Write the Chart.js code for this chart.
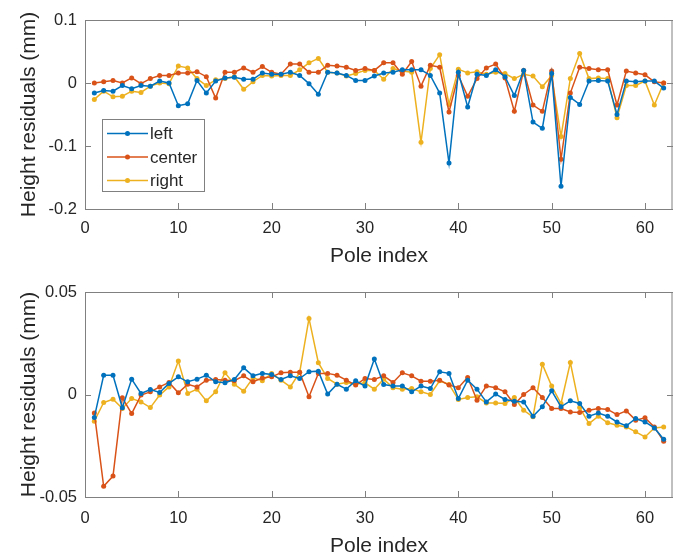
<!DOCTYPE html>
<html>
<head>
<meta charset="utf-8">
<script src="https://cdn.jsdelivr.net/npm/chart.js@4"></script>
<style>
  html, body { margin: 0; padding: 0; background: #fff; overflow: hidden; }
  #wrap { position: relative; width: 673px; height: 554px; }
  #topBox { position: absolute; left: 0; top: 0; }
  #botBox { position: absolute; left: 0; top: 277px; }
</style>
</head>
<body>
<div id="wrap">
  <div id="topBox"><canvas id="topChart" width="673" height="277"></canvas></div>
  <div id="botBox"><canvas id="botChart" width="673" height="290"></canvas></div>
</div>
<script>
// pole index 1..62
const poles = [1,2,3,4,5,6,7,8,9,10,11,12,13,14,15,16,17,18,19,20,21,22,23,24,25,26,27,28,29,30,
  31,32,33,34,35,36,37,38,39,40,41,42,43,44,45,46,47,48,49,50,51,52,53,54,55,56,57,58,59,60,61,62];

const seriesNames = ['left', 'center', 'right'];

// upper plot (mm)
const topLeft = [-0.016,-0.012,-0.013,-0.004,-0.009,-0.004,-0.005,0.003,0.000,-0.036,
  -0.033,0.004,-0.016,0.003,0.008,0.009,0.006,0.006,0.016,0.014,
  0.014,0.017,0.012,-0.001,-0.018,0.017,0.016,0.012,0.004,0.004,
  0.011,0.016,0.017,0.021,0.021,0.021,0.012,-0.016,-0.127,0.017,
  -0.038,0.014,0.012,0.021,0.010,-0.020,0.020,-0.062,-0.072,0.015,
  -0.164,-0.023,-0.034,0.003,0.004,0.003,-0.050,0.003,0.002,0.003,
  0.003,-0.008];
const topCenter = [0.000,0.002,0.004,0.000,0.008,-0.001,0.007,0.012,0.012,0.016,
  0.016,0.018,0.010,-0.024,0.017,0.017,0.024,0.017,0.026,0.017,
  0.014,0.030,0.030,0.017,0.017,0.028,0.027,0.025,0.020,0.023,
  0.020,0.032,0.032,0.014,0.034,-0.005,0.028,0.025,-0.046,0.012,
  -0.021,0.007,0.024,0.030,0.008,-0.045,0.020,-0.035,-0.045,0.019,
  -0.121,-0.016,0.025,0.023,0.021,0.021,-0.035,0.019,0.016,0.013,
  0.002,0.000];
const topRight = [-0.026,-0.013,-0.022,-0.021,-0.013,-0.015,-0.005,0.000,-0.001,0.027,
  0.024,0.007,-0.004,0.005,0.007,0.010,-0.010,0.002,0.012,0.011,
  0.012,0.012,0.021,0.032,0.039,0.017,0.016,0.011,0.015,0.020,
  0.020,0.006,0.023,0.019,0.017,-0.094,0.023,0.045,-0.034,0.022,
  0.016,0.018,0.014,0.017,0.015,0.007,0.014,0.011,-0.006,0.012,
  -0.085,0.007,0.047,0.007,0.008,0.007,-0.055,-0.004,-0.004,0.003,
  -0.035,0.000];

// lower plot (mm)
const botLeft = [-0.0112,0.0094,0.0094,-0.0065,0.0075,0.0005,0.0024,0.0010,0.0054,0.0086,
  0.0062,0.0075,0.0094,0.0062,0.0057,0.0073,0.0130,0.0091,0.0103,0.0098,
  0.0073,0.0091,0.0078,0.0111,0.0114,0.0002,0.0050,0.0026,0.0067,0.0041,
  0.0173,0.0049,0.0042,0.0041,0.0013,0.0041,0.0029,0.0111,0.0103,-0.0020,
  0.0070,0.0026,-0.0036,0.0002,-0.0024,-0.0033,-0.0036,-0.0106,-0.0060,0.0018,
  -0.0060,-0.0031,-0.0044,-0.0106,-0.0090,-0.0106,-0.0134,-0.0153,-0.0117,-0.0134,
  -0.0163,-0.0218];
const botCenter = [-0.0090,-0.0448,-0.0398,-0.0016,-0.0093,-0.0003,0.0013,0.0037,0.0059,0.0008,
  0.0050,0.0037,0.0070,0.0073,0.0070,0.0067,0.0091,0.0062,0.0081,0.0086,
  0.0106,0.0108,0.0108,-0.0011,0.0103,0.0103,0.0094,0.0070,0.0046,0.0078,
  0.0073,0.0091,0.0059,0.0106,0.0091,0.0065,0.0065,0.0070,0.0046,0.0033,
  0.0083,-0.0028,0.0041,0.0033,0.0013,-0.0049,0.0000,0.0033,-0.0015,-0.0068,
  -0.0068,-0.0085,-0.0088,-0.0077,-0.0068,-0.0073,-0.0098,-0.0080,-0.0125,-0.0114,
  -0.0158,-0.0228];
const botRight = [-0.0130,-0.0039,-0.0023,-0.0068,-0.0020,-0.0036,-0.0064,-0.0003,0.0037,0.0163,
  0.0005,0.0026,-0.0031,0.0013,0.0106,0.0050,0.0016,0.0081,0.0067,0.0103,
  0.0070,0.0037,0.0108,0.0371,0.0155,0.0078,0.0050,0.0059,0.0050,0.0057,
  0.0026,0.0075,0.0033,0.0026,0.0029,0.0013,0.0000,0.0067,0.0049,-0.0024,
  -0.0015,-0.0011,-0.0041,-0.0041,-0.0044,-0.0015,-0.0077,-0.0109,0.0148,0.0041,
  -0.0044,0.0156,-0.0064,-0.0142,-0.0106,-0.0138,-0.0150,-0.0158,-0.0182,-0.0207,
  -0.0163,-0.0158];

const xTicks = [0, 10, 20, 30, 40, 50, 60];
const yTicksTop = [-0.2, -0.1, 0, 0.1];
const yTicksBot = [-0.05, 0, 0.05];

const COLORS = ['#0072BD', '#D95319', '#EDB120'];
const AXIS_COLOR = '#808080';
const TEXT_COLOR = '#262626';
const FONT = '"Liberation Sans", Arial, Helvetica, sans-serif';
const TICK_LEN = 6;

// box round the axes + inward ticks, like matlab
const framePlugin = {
    id: 'frame',
    afterDraw(chart) {
        const { ctx, chartArea: a, scales } = chart;
        ctx.save();
        ctx.strokeStyle = AXIS_COLOR;
        ctx.lineWidth = 1;
        ctx.strokeRect(a.left + 0.5, a.top + 0.5, a.right - a.left - 1.5, a.bottom - a.top);
        ctx.beginPath();
        scales.x.ticks.forEach(t => {
            const px = Math.round(scales.x.getPixelForValue(t.value)) + 0.5;
            ctx.moveTo(px, a.bottom); ctx.lineTo(px, a.bottom - TICK_LEN);
            ctx.moveTo(px, a.top); ctx.lineTo(px, a.top + TICK_LEN);
        });
        scales.y.ticks.forEach(t => {
            const py = Math.round(scales.y.getPixelForValue(t.value)) + 0.5;
            ctx.moveTo(a.left, py); ctx.lineTo(a.left + TICK_LEN, py);
            ctx.moveTo(a.right, py); ctx.lineTo(a.right - TICK_LEN, py);
        });
        ctx.stroke();
        ctx.restore();
    }
};

// legend box inside the upper axes
const legendPlugin = {
    id: 'boxLegend',
    afterDraw(chart) {
        const ctx = chart.ctx;
        const bx = 102.5, by = 119.5, bw = 102, bh = 72;
        ctx.save();
        ctx.fillStyle = '#fff';
        ctx.fillRect(bx, by, bw, bh);
        ctx.strokeStyle = AXIS_COLOR;
        ctx.lineWidth = 1;
        ctx.strokeRect(bx, by, bw, bh);
        ctx.font = '17px ' + FONT;
        ctx.textBaseline = 'middle';
        chart.data.datasets.forEach((ds, i) => {
            const y = 133.5 + i * 23.5;
            ctx.strokeStyle = ds.borderColor;
            ctx.lineWidth = 1.5;
            ctx.beginPath();
            ctx.moveTo(107, y); ctx.lineTo(148, y);
            ctx.stroke();
            ctx.fillStyle = ds.borderColor;
            ctx.beginPath();
            ctx.arc(127.5, y, 2.5, 0, Math.PI * 2);
            ctx.fill();
            ctx.fillStyle = TEXT_COLOR;
            ctx.fillText(ds.label, 150, y + 1);
        });
        ctx.restore();
    }
};

function makeDatasets(series) {
    return series.map((vals, i) => ({
        label: seriesNames[i],
        data: poles.map((p, k) => ({ x: p, y: vals[k] })),
        borderColor: COLORS[i],
        backgroundColor: COLORS[i],
        borderWidth: 1.5,
        pointRadius: 2.5,
        pointBorderWidth: 0,
        pointBackgroundColor: COLORS[i],
        tension: 0,
        fill: false
    }));
}

function makeChart(id, series, yMin, yMax, yTicks, cfg) {
    const ctx = document.getElementById(id).getContext('2d');
    return new Chart(ctx, {
        type: 'line',
        data: { datasets: makeDatasets(series) },
        options: {
            responsive: false,
            animation: false,
            events: [],
            layout: {
                autoPadding: false,
                padding: { top: cfg.top, left: 0, right: 0, bottom: 0 }
            },
            scales: {
                x: {
                    type: 'linear',
                    min: 0,
                    max: 63,
                    afterBuildTicks: (s) => { s.ticks = xTicks.map(v => ({ value: v })); },
                    afterFit: (s) => {
                        s.height = cfg.xHeight;
                        s.paddingLeft = 0;
                        s.paddingRight = 0;
                    },
                    grid: { display: false, drawTicks: false },
                    border: { display: false },
                    ticks: {
                        padding: cfg.xPad,
                        color: TEXT_COLOR,
                        font: { family: FONT, size: 16.5 },
                        maxRotation: 0,
                        callback: v => String(v)
                    },
                    title: {
                        display: true,
                        text: 'Pole index',
                        color: TEXT_COLOR,
                        font: { family: FONT, size: 21 },
                        padding: { top: 0, bottom: 8.4 }
                    }
                },
                y: {
                    min: yMin,
                    max: yMax,
                    afterBuildTicks: (s) => { s.ticks = yTicks.map(v => ({ value: v })); },
                    afterFit: (s) => {
                        s.width = 85;
                        s.paddingTop = 0;
                        s.paddingBottom = 0;
                    },
                    grid: { display: false, drawTicks: false },
                    border: { display: false },
                    ticks: {
                        padding: 8,
                        color: TEXT_COLOR,
                        font: { family: FONT, size: 16.5 },
                        callback: v => String(v)
                    },
                    title: {
                        display: true,
                        text: 'Height residuals (mm)',
                        color: TEXT_COLOR,
                        font: { family: FONT, size: 21 },
                        padding: { top: 17, bottom: 0 }
                    }
                }
            },
            plugins: {
                legend: { display: false },
                tooltip: { enabled: false }
            }
        },
        plugins: cfg.legend ? [framePlugin, legendPlugin] : [framePlugin]
    });
}

makeChart('topChart', [topLeft, topCenter, topRight], -0.2, 0.1, yTicksTop,
    { top: 20, xHeight: 68, xPad: 10, legend: true });
makeChart('botChart', [botLeft, botCenter, botRight], -0.05, 0.05, yTicksBot,
    { top: 15, xHeight: 70, xPad: 12, legend: false });
</script>
</body>
</html>
